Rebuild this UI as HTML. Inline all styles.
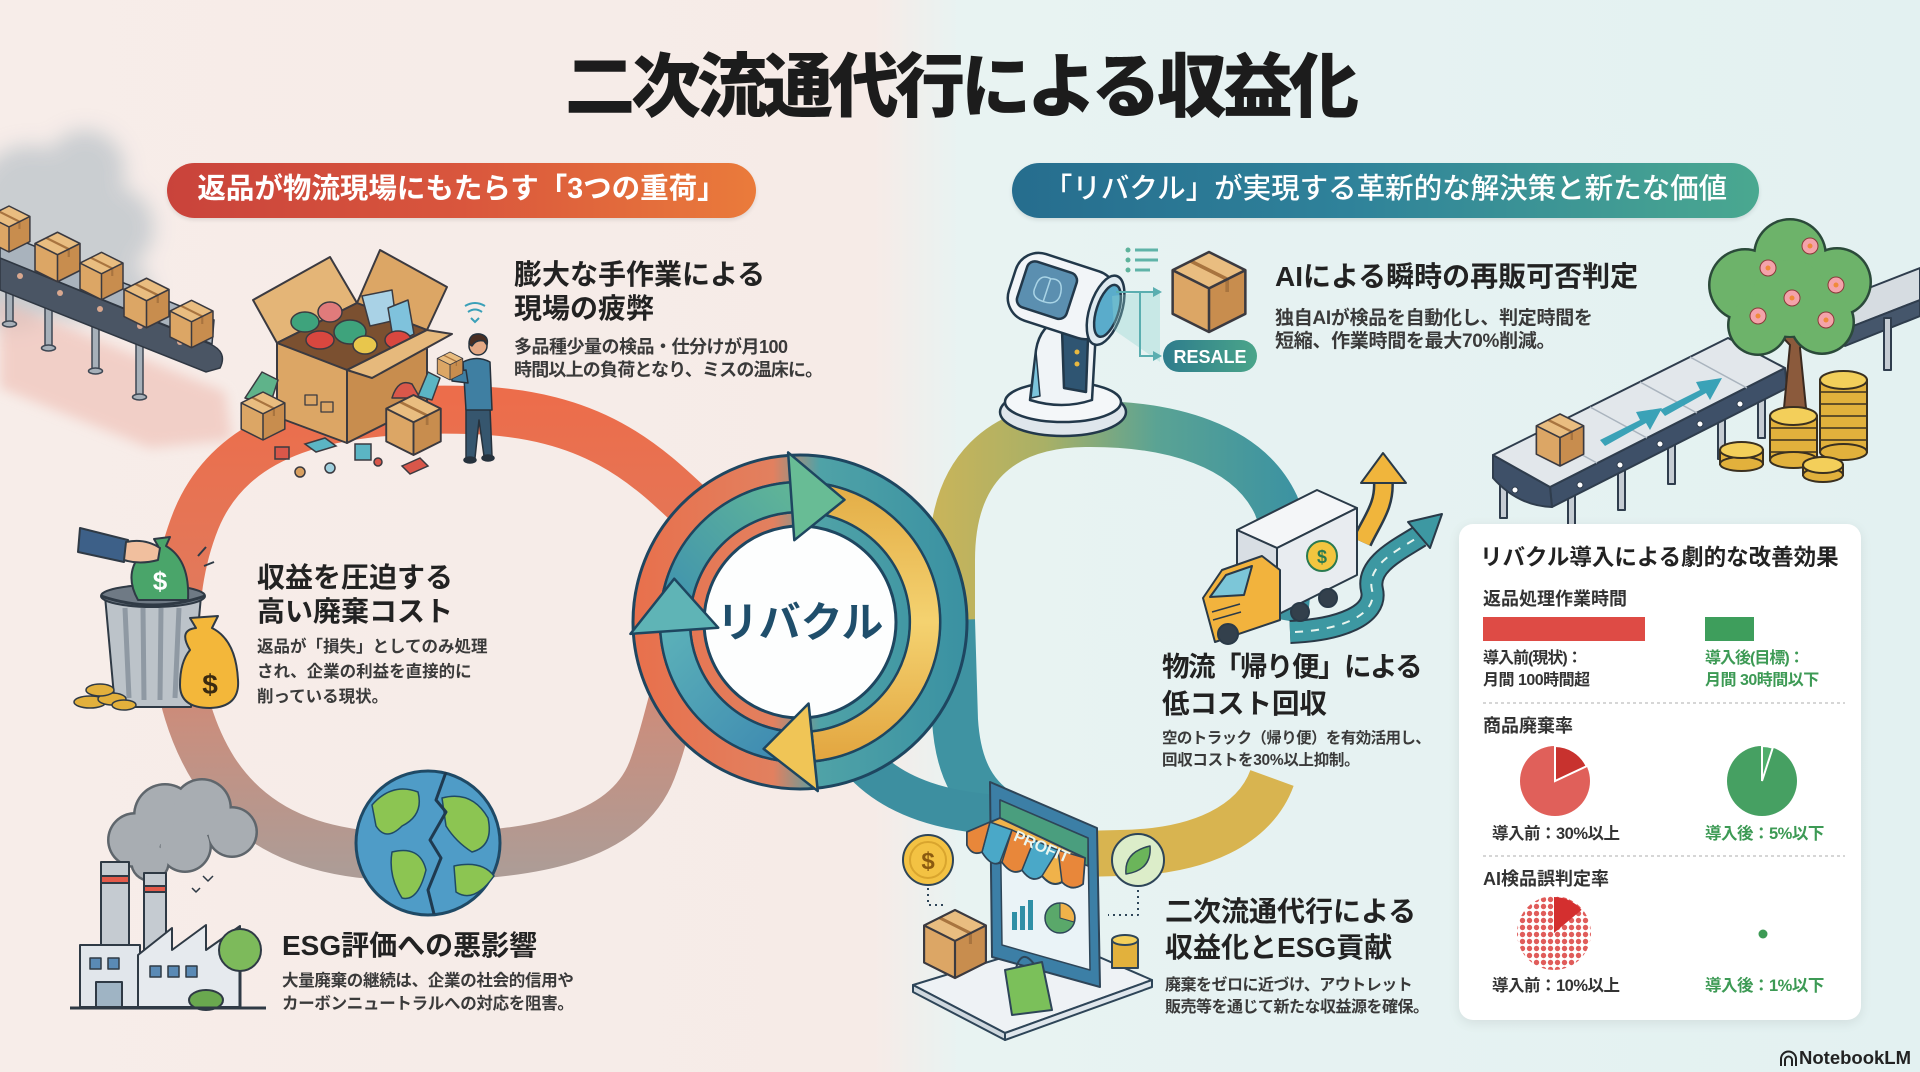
<!DOCTYPE html>
<html><head><meta charset="utf-8">
<style>
html,body{margin:0;padding:0;}
#c{position:relative;width:1920px;height:1072px;overflow:hidden;
background:linear-gradient(90deg,#f7ede9 0%,#f6ebe7 45.5%,#e8f3f2 50%,#e3f1f1 100%);
font-family:"Liberation Sans","Noto Sans CJK JP",sans-serif;}
.t{position:absolute;white-space:nowrap;line-height:1;color:#222;}
.h{font-size:28px;font-weight:700;color:#222;}
.b{color:#3a3a3a;font-weight:700;}
.pill{position:absolute;height:55px;border-radius:28px;}
.g{color:#3d9a55;}
</style></head><body>
<div id="c">
<svg width="1920" height="1072" viewBox="0 0 1920 1072" style="position:absolute;left:0;top:0">
<defs>
 <linearGradient id="gL" gradientUnits="userSpaceOnUse" x1="0" y1="400" x2="0" y2="870">
  <stop offset="0" stop-color="#ec6d4b"/><stop offset="0.4" stop-color="#e2795b"/><stop offset="0.7" stop-color="#c88f7f"/><stop offset="1" stop-color="#ad9c96"/>
 </linearGradient>
 <linearGradient id="gRT" gradientUnits="userSpaceOnUse" x1="940" y1="0" x2="1290" y2="0">
  <stop offset="0" stop-color="#c7b45b"/><stop offset="0.3" stop-color="#a9b066"/><stop offset="0.62" stop-color="#5aa394"/><stop offset="1" stop-color="#3d93a1"/>
 </linearGradient>
 <linearGradient id="gRing" gradientUnits="userSpaceOnUse" x1="-167" y1="0" x2="167" y2="0">
  <stop offset="0" stop-color="#e8704c"/><stop offset="0.42" stop-color="#e2805f"/><stop offset="0.56" stop-color="#4fa2a7"/><stop offset="1" stop-color="#3a91a2"/>
 </linearGradient>
 <linearGradient id="gA1" gradientUnits="userSpaceOnUse" x1="-140" y1="0" x2="0" y2="-140"><stop offset="0" stop-color="#3c8fb2"/><stop offset="1" stop-color="#62b795"/></linearGradient>
 <linearGradient id="gA2" gradientUnits="userSpaceOnUse" x1="0" y1="-140" x2="0" y2="140"><stop offset="0" stop-color="#e3ac45"/><stop offset="0.5" stop-color="#f4d270"/><stop offset="1" stop-color="#e2a53f"/></linearGradient>
 <linearGradient id="gA3" gradientUnits="userSpaceOnUse" x1="0" y1="140" x2="-140" y2="0"><stop offset="0" stop-color="#3b86b0"/><stop offset="1" stop-color="#5db3b9"/></linearGradient>
 <linearGradient id="gRes" x1="0" y1="0" x2="1" y2="0"><stop offset="0" stop-color="#2e7c8c"/><stop offset="1" stop-color="#4aa58a"/></linearGradient>
 <filter id="bl6" x="-50%" y="-50%" width="200%" height="200%"><feGaussianBlur stdDeviation="6"/></filter>
 <filter id="bl10" x="-50%" y="-50%" width="200%" height="200%"><feGaussianBlur stdDeviation="10"/></filter>
 <symbol id="bx" viewBox="0 0 40 44" overflow="visible">
  <path d="M0 10 L20 0 L40 10 L20 20Z" fill="#e9bd80"/>
  <path d="M0 10 L20 20 L20 44 L0 34Z" fill="#dca665"/>
  <path d="M20 20 L40 10 L40 34 L20 44Z" fill="#c88d4e"/>
  <path d="M10 5 L30 15 L30 22" fill="none" stroke="#a8743f" stroke-width="2"/>
  <path d="M0 10 L20 0 L40 10 L40 34 L20 44 L0 34Z M0 10 L20 20 L40 10 M20 20 L20 44" fill="none" stroke="#3b3a40" stroke-width="1.4" stroke-linejoin="round"/>
 </symbol>
 <pattern id="dots" patternUnits="userSpaceOnUse" width="7" height="7"><circle cx="3.5" cy="3.5" r="2.7" fill="#e05c5a"/></pattern>
</defs>

<!-- top-left smoke & conveyor -->
<g filter="url(#bl10)" fill="#c6cbcf" opacity="0.9">
 <circle cx="30" cy="200" r="55"/><circle cx="85" cy="170" r="40"/><circle cx="112" cy="228" r="42"/><circle cx="70" cy="272" r="50"/><circle cx="122" cy="292" r="30"/><circle cx="15" cy="290" r="40"/>
</g>
<path d="M0 300 L225 392 L232 440 L150 448 L0 388Z" fill="#efc0b6" opacity="0.65" filter="url(#bl6)"/>
<g stroke="#3e4753" stroke-width="1.5" fill="#a7b0b9">
 <rect x="6" y="275" width="7" height="48"/><ellipse cx="9.5" cy="324" rx="7" ry="3"/>
 <rect x="45" y="290" width="7" height="57"/><ellipse cx="48.5" cy="348" rx="7" ry="3"/>
 <rect x="92" y="310" width="7" height="60"/><ellipse cx="95.5" cy="371" rx="7" ry="3"/>
 <rect x="136" y="328" width="7" height="68"/><ellipse cx="139.5" cy="397" rx="7" ry="3"/>
</g>
<path d="M0 258 L210 344 Q228 352 220 368 L206 372 L0 290 Z" fill="#4a5564" stroke="#2f3742" stroke-width="1.5"/>
<path d="M0 232 L214 320 L212 344 L0 258 Z" fill="#a9b3bd" stroke="#2f3742" stroke-width="1.5"/>
<g fill="#d9a88f"><circle cx="20" cy="276" r="3"/><circle cx="60" cy="293" r="3"/><circle cx="100" cy="309" r="3"/><circle cx="140" cy="326" r="3"/><circle cx="180" cy="342" r="3"/></g>
<use href="#bx" x="-12" y="206" width="42" height="46"/>
<use href="#bx" x="35" y="232" width="45" height="50"/>
<use href="#bx" x="80" y="252" width="43" height="48"/>
<use href="#bx" x="124" y="278" width="45" height="50"/>
<use href="#bx" x="170" y="300" width="43" height="48"/>

<!-- loops -->
<path d="M705 520 C650 468,600 414,470 410 C330 406,232 432,196 520 C164 600,170 700,214 770 C258 838,330 858,420 857 C530 856,625 840,652 770 C668 728,672 690,690 650" fill="none" stroke="url(#gL)" stroke-width="48"/>
<path d="M952 700 L952 560 C952 470,1000 425,1085 424 C1170 423,1248 445,1276 505 C1290 540,1290 585,1284 620" fill="none" stroke="url(#gRT)" stroke-width="46"/>
<path d="M952 620 L955 720 C958 770,975 800,1010 818" fill="none" stroke="#3f93a2" stroke-width="46"/>
<path d="M860 760 C895 800,950 812,1000 815" fill="none" stroke="#3d8fa0" stroke-width="40"/>
<path d="M1272 778 C1255 825,1200 852,1120 853 L1040 855" fill="none" stroke="#d8b450" stroke-width="46"/>

<!-- ring -->
<g transform="translate(800,622)" stroke="#1e4660" stroke-linejoin="round">
 <circle r="167" fill="url(#gRing)" stroke-width="3"/>
 <circle r="140" fill="none" stroke-width="2.5"/>
 <circle r="110" fill="url(#gRing)" stroke-width="2.5"/>
 <circle r="96" fill="#fdfefe" stroke-width="3"/>
 <path d="M-139.47 12.21 A140 140 0 0 1 -4.89 -139.92 L-3.84 -109.93 A110 110 0 0 0 -109.58 9.59Z" fill="url(#gA1)" stroke-width="2.5"/>
 <path d="M-4.89 -139.92 A140 140 0 0 1 9.77 139.66 L7.67 109.73 A110 110 0 0 0 -3.84 -109.93Z" fill="url(#gA2)" stroke-width="2.5"/>
 <path d="M14.63 139.23 A140 140 0 0 1 -139.91 4.89 L-109.93 3.84 A110 110 0 0 0 11.50 109.40Z" fill="url(#gA3)" stroke-width="2.5"/>
 <path d="M-11.9 -169.6 L44.5 -122.2 L-5.7 -81.8Z" fill="#68bc95" stroke-width="2.5"/>
 <path d="M17.77 169.07 L-36.38 126.89 L8.57 81.55Z" fill="#f0c556" stroke-width="2.5"/>
 <path d="M-169.59 11.86 L-125.75 -43.30 L-81.80 5.72Z" fill="#5fb4b6" stroke-width="2.5"/>
</g>

<!-- big box & person -->
<g stroke="#3b3a40" stroke-width="2" stroke-linejoin="round">
 <path d="M277 343 L357 303 L330 257 L253 300Z" fill="#e4b577"/>
 <path d="M357 303 L427 330 L447 287 L380 250Z" fill="#dca665"/>
 <path d="M277 343 L357 303 L427 330 L347 370Z" fill="#7b5030"/>
 <g stroke-width="1.5">
  <ellipse cx="305" cy="322" rx="14" ry="10" fill="#3ea37c"/>
  <ellipse cx="330" cy="312" rx="12" ry="10" fill="#e07b7b"/>
  <path d="M362 296 L392 290 L396 320 L370 326Z" fill="#a9d2e6"/>
  <path d="M388 308 L408 300 L414 334 L394 344Z" fill="#7fc2dc"/>
  <ellipse cx="350" cy="332" rx="16" ry="12" fill="#3ea37c"/>
  <ellipse cx="320" cy="340" rx="14" ry="9" fill="#d9473f"/>
  <ellipse cx="365" cy="345" rx="12" ry="9" fill="#e8c64c"/>
  <ellipse cx="398" cy="340" rx="13" ry="9" fill="#d9473f"/>
 </g>
 <path d="M277 343 L347 370 L347 443 L277 417Z" fill="#dca665"/>
 <path d="M347 370 L427 330 L427 403 L347 443Z" fill="#c88d4e"/>
 <path d="M347 370 L427 330 L452 334 L372 378Z" fill="#e6b97c"/>
 <path d="M305 395 h12 v10 h-12z M321 402 h12 v10 h-12z" fill="none" stroke-width="1.3"/>
 <path d="M245 398 L262 372 L278 380 L270 405Z" fill="#5fb38a" stroke-width="1.5"/>
 <path d="M392 398 Q398 378 412 384 L420 398Z" fill="#d9574a" stroke-width="1.5"/>
 <path d="M418 396 L428 372 L440 378 L432 400Z" fill="#5bb5c4" stroke-width="1.5"/>
</g>
<use href="#bx" x="233" y="392" width="60" height="48"/>
<use href="#bx" x="380" y="395" width="67" height="60"/>
<g stroke="#3b3a40" stroke-width="1.5">
 <rect x="275" y="447" width="14" height="12" fill="#d9574a"/>
 <path d="M305 444 L325 438 L336 446 L316 452Z" fill="#5bb5c4"/>
 <rect x="355" y="444" width="16" height="16" fill="#5bb5c4"/>
 <path d="M402 466 L420 458 L428 466 L410 474Z" fill="#d9574a"/>
 <circle cx="330" cy="468" r="5" fill="#9fd0de"/><circle cx="300" cy="472" r="5" fill="#d9a060"/><circle cx="378" cy="462" r="4" fill="#d9574a"/>
</g>
<g stroke="#26323d" stroke-width="1.5" stroke-linejoin="round">
 <path d="M466 408 L490 408 L492 456 L484 456 L479 420 L475 458 L466 458Z" fill="#36566e"/>
 <path d="M463 362 Q477 355 490 362 L492 410 L466 410Z" fill="#3f7fa2"/>
 <path d="M466 370 L452 372 L452 381 L468 383Z" fill="#3f7fa2"/>
 <ellipse cx="470" cy="460" rx="6" ry="3" fill="#26323d"/><ellipse cx="488" cy="458" rx="6" ry="3" fill="#26323d"/>
 <circle cx="478" cy="346" r="9" fill="#e4a985"/>
 <path d="M469 344 Q469 333 480 334 Q489 336 487 345 L484 341 Q476 339 472 346Z" fill="#4a2e22"/>
</g>
<use href="#bx" x="437" y="352" width="26" height="28"/>
<g fill="none" stroke="#3aa0b8" stroke-width="2"><path d="M465 306 Q475 300 485 306"/><path d="M468 312 Q475 307 482 312"/><path d="M471 318 L475 322 L479 318"/></g>

<!-- trash can -->
<g stroke="#2f3a45" stroke-width="2" stroke-linejoin="round">
 <path d="M105 596 L201 596 L191 707 L115 707Z" fill="#bcc3c9"/>
 <path d="M125 608 L129 698 M143 608 L144 700 M161 608 L160 700 M179 608 L175 698" stroke="#8f99a3" stroke-width="5"/>
 <ellipse cx="153" cy="596" rx="52" ry="11" fill="#6f7a85"/>
 <path d="M138 600 Q124 575 140 555 Q150 546 158 546 L154 539 L170 537 L166 546 Q190 560 188 600Z" fill="#4aa56a"/>
 <path d="M101 596 Q153 614 205 596" fill="none" stroke-width="3"/>
 <path d="M80 528 L128 540 L124 562 L78 552Z" fill="#3d6088"/>
 <path d="M126 542 Q145 538 160 548 L158 560 Q140 565 124 560Z" fill="#f1bf9e"/>
 <path d="M190 650 Q178 630 196 628 L190 618 L218 616 L212 628 Q236 640 238 680 Q240 707 210 708 Q180 708 180 685 Q180 662 190 650Z" fill="#f3b73a"/>
 <g fill="#e2b03c" stroke-width="1.5"><ellipse cx="90" cy="702" rx="16" ry="6"/><ellipse cx="112" cy="699" rx="14" ry="6"/><ellipse cx="100" cy="690" rx="14" ry="6"/><ellipse cx="124" cy="705" rx="12" ry="5"/></g>
 <path d="M198 556 L206 547 M204 566 L214 562" fill="none"/>
</g>
<text x="160" y="590" font-family="Liberation Sans" font-weight="700" font-size="26" fill="#fff" text-anchor="middle">$</text>
<text x="210" y="694" font-family="Liberation Sans" font-weight="700" font-size="28" fill="#3a2a10" text-anchor="middle">$</text>

<!-- factory -->
<g stroke="#2f3a45" stroke-width="2" stroke-linejoin="round">
 <g fill="#5f666c" stroke="none"><circle cx="135" cy="840" r="28"/><circle cx="165" cy="815" r="32"/><circle cx="202" cy="808" r="30"/><circle cx="232" cy="832" r="26"/><circle cx="185" cy="846" r="27"/><circle cx="150" cy="862" r="20"/></g>
 <g fill="#a8adb2" stroke="none"><circle cx="135" cy="840" r="25.5"/><circle cx="165" cy="815" r="29.5"/><circle cx="202" cy="808" r="27.5"/><circle cx="232" cy="832" r="23.5"/><circle cx="185" cy="846" r="24.5"/><circle cx="150" cy="862" r="17.5"/></g>
 <rect x="101" y="862" width="28" height="120" fill="#c5cbd1"/><rect x="101" y="876" width="28" height="7" fill="#e35a4a"/>
 <rect x="144" y="873" width="22" height="100" fill="#c5cbd1"/><rect x="144" y="886" width="22" height="6" fill="#e35a4a"/>
 <path d="M80 1007 L80 945 L140 945 L140 1007Z" fill="#e1e6eb"/>
 <path d="M138 1007 L138 955 L172 928 L172 950 L206 925 L206 950 L240 926 L240 1007Z" fill="#e6eaee"/>
 <g fill="#5a8ab5" stroke-width="1.5"><rect x="90" y="958" width="11" height="11"/><rect x="108" y="958" width="11" height="11"/><rect x="150" y="966" width="11" height="11"/><rect x="168" y="966" width="11" height="11"/><rect x="186" y="966" width="11" height="11"/></g>
 <rect x="96" y="982" width="26" height="25" fill="#9fb4c4"/>
 <path d="M240 970 L240 1007" stroke-width="3"/>
 <circle cx="240" cy="950" r="21" fill="#7dba5b"/>
 <ellipse cx="206" cy="1000" rx="17" ry="10" fill="#6aa84f"/>
 <path d="M70 1008 L266 1008" stroke-width="3"/>
 <path d="M203 876 l5 5 l5 -5 M192 888 l4 4 l4 -4" fill="none" stroke-width="1.5"/>
</g>

<!-- globe -->
<g stroke="#1f4a66" stroke-width="3" stroke-linejoin="round">
 <circle cx="428" cy="843" r="72" fill="#4f9cc7"/>
 <g fill="#8cc552" stroke-width="1.5">
  <path d="M372 805 Q392 782 418 792 Q424 815 402 826 Q386 842 376 826Z"/>
  <path d="M442 798 Q472 790 488 818 Q494 846 472 852 Q456 842 446 826Z"/>
  <path d="M392 852 Q420 845 426 870 Q418 902 402 898 Q388 876 392 852Z"/>
  <path d="M454 866 Q482 860 494 876 Q474 904 456 892Z"/>
 </g>
 <path d="M446 772 L436 800 L446 812 L430 840 L441 858 L428 890 L434 914" fill="none" stroke="#1f3a50" stroke-width="3"/>
</g>

<!-- robot & AI -->
<g stroke="#22384a" stroke-width="2.5" stroke-linejoin="round">
 <ellipse cx="1063" cy="412" rx="63" ry="24" fill="#dfe6ec"/>
 <ellipse cx="1063" cy="402" rx="58" ry="20" fill="#f4f7f9"/>
 <path d="M1030 400 L1036 350 Q1040 325 1062 318 L1096 330 L1092 400 Q1062 410 1030 400Z" fill="#f0f4f7"/>
 <path d="M1036 352 L1040 396 L1031 398Z" fill="#7cc4dc" stroke-width="1.5"/>
 <path d="M1062 330 L1088 338 L1086 392 L1064 388Z" fill="#2f5572"/>
 <g transform="rotate(18 1065 296)">
  <rect x="1010" y="262" width="104" height="70" rx="24" fill="#f2f5f8"/>
  <rect x="1020" y="272" width="52" height="48" rx="8" fill="#5b8fb0"/>
  <path d="M1034 296 Q1034 282 1046 284 Q1058 280 1060 294 Q1062 308 1046 308 Q1032 308 1034 296Z M1046 284 L1046 308" fill="none" stroke="#a9d4e6" stroke-width="1.5"/>
  <ellipse cx="1108" cy="297" rx="16" ry="36" fill="#dfeaf0"/>
  <ellipse cx="1110" cy="297" rx="11" ry="27" fill="#5aaccb"/>
 </g>
</g>
<g fill="#e8b840"><circle cx="1077" cy="352" r="2.5"/><circle cx="1077" cy="364" r="2.5"/></g>
<path d="M1112 296 L1160 290 L1160 362 L1114 330Z" fill="#8fd3d0" opacity="0.35"/>
<g fill="#5fb39c"><circle cx="1128" cy="250" r="2.5"/><circle cx="1128" cy="260" r="2.5"/><circle cx="1128" cy="270" r="2.5"/></g>
<path d="M1135 250 H1158 M1135 260 H1158 M1135 270 H1150" stroke="#5fb3a8" stroke-width="3"/>
<path d="M1116 292 H1154 M1140 292 V356 H1154" fill="none" stroke="#5aaeb0" stroke-width="2"/>
<path d="M1153 287 L1162 292 L1153 297Z M1153 351 L1162 356 L1153 361Z" fill="#5aaeb0"/>
<use href="#bx" x="1172" y="252" width="74" height="80"/>
<rect x="1163" y="340" width="94" height="32" rx="16" fill="url(#gRes)"/>
<text x="1210" y="363" font-family="Liberation Sans" font-weight="700" font-size="18" fill="#fff" text-anchor="middle">RESALE</text>

<!-- right conveyor, tree, coins -->
<g stroke="#2f3d4d" stroke-width="2" stroke-linejoin="round">
 <path d="M1838 300 L1920 268 L1920 300 L1843 330Z" fill="#d6dce1"/>
 <path d="M1843 330 L1920 300 L1920 316 L1845 346Z" fill="#45566b"/>
 <rect x="1884" y="318" width="7" height="52" fill="#c5ccd3"/>
 <g fill="#c5ccd3"><rect x="1500" y="476" width="7" height="42"/><rect x="1568" y="496" width="7" height="40"/><rect x="1618" y="470" width="7" height="40"/><rect x="1668" y="444" width="7" height="40"/><rect x="1718" y="419" width="7" height="40"/><rect x="1758" y="398" width="7" height="40"/></g>
 <path d="M1550 487 L1785 368 L1787 388 L1552 507Z" fill="#3e5068"/>
 <path d="M1493 455 L1550 487 L1552 507 Q1518 506 1493 478Z" fill="#3e5068"/>
 <path d="M1493 455 L1728 338 L1785 368 L1550 487Z" fill="#e2e7eb"/>
 <path d="M1540 432 L1597 463 M1590 407 L1647 438 M1640 382 L1697 413 M1690 357 L1747 388" stroke="#aab4be" stroke-width="1.5"/>
</g>
<g fill="#fff" stroke="#2f3d4d" stroke-width="1"><circle cx="1580" cy="485" r="3"/><circle cx="1620" cy="465" r="3"/><circle cx="1660" cy="444" r="3"/><circle cx="1700" cy="424" r="3"/><circle cx="1740" cy="404" r="3"/><circle cx="1515" cy="490" r="3"/></g>
<path d="M1600 440 L1640 420 L1636 412 L1662 408 L1650 430 L1646 423 L1605 446Z" fill="#3aa2b7"/>
<path d="M1660 410 L1700 390 L1696 382 L1722 378 L1710 400 L1706 393 L1665 416Z" fill="#3aa2b7"/>
<use href="#bx" x="1533" y="414" width="54" height="52"/>
<path d="M1784 408 L1790 345 L1768 322 L1777 318 L1795 338 L1805 318 L1813 322 L1800 348 L1806 408Z" fill="#8b5a3c" stroke="#3a2a20" stroke-width="2"/>
<g fill="#2b4a3a"><circle cx="1745" cy="285" r="37"/><circle cx="1790" cy="255" r="37"/><circle cx="1837" cy="282" r="35"/><circle cx="1758" cy="325" r="31"/><circle cx="1822" cy="322" r="33"/><circle cx="1790" cy="298" r="40"/></g>
<g fill="#6db36a"><circle cx="1745" cy="285" r="34.5"/><circle cx="1790" cy="255" r="34.5"/><circle cx="1837" cy="282" r="32.5"/><circle cx="1758" cy="325" r="28.5"/><circle cx="1822" cy="322" r="30.5"/><circle cx="1790" cy="298" r="38"/></g>
<g fill="#f4a3aa" stroke="#8a3a3a" stroke-width="1"><circle cx="1768" cy="268" r="8"/><circle cx="1810" cy="246" r="8"/><circle cx="1836" cy="285" r="8"/><circle cx="1792" cy="298" r="8"/><circle cx="1758" cy="316" r="8"/><circle cx="1826" cy="320" r="8"/></g>
<g fill="#f08a3a"><circle cx="1768" cy="268" r="2.5"/><circle cx="1810" cy="246" r="2.5"/><circle cx="1836" cy="285" r="2.5"/><circle cx="1792" cy="298" r="2.5"/><circle cx="1758" cy="316" r="2.5"/><circle cx="1826" cy="320" r="2.5"/></g>
<g stroke="#3a3020" stroke-width="2">
 <rect x="1820" y="380" width="47" height="72" fill="#e2b13c"/>
 <path d="M1820 392 H1867 M1820 404 H1867 M1820 416 H1867 M1820 428 H1867 M1820 440 H1867" stroke-width="1.5"/>
 <ellipse cx="1843.5" cy="452" rx="23.5" ry="8" fill="#e2b13c"/>
 <ellipse cx="1843.5" cy="380" rx="23.5" ry="9" fill="#f3cf5a"/>
 <rect x="1770" y="416" width="47" height="44" fill="#e2b13c"/>
 <path d="M1770 428 H1817 M1770 440 H1817 M1770 452 H1817" stroke-width="1.5"/>
 <ellipse cx="1793.5" cy="460" rx="23.5" ry="8" fill="#e2b13c"/>
 <ellipse cx="1793.5" cy="416" rx="23.5" ry="9" fill="#f3cf5a"/>
 <rect x="1720" y="450" width="43" height="14" fill="#e2b13c"/><ellipse cx="1741.5" cy="464" rx="21.5" ry="7" fill="#e2b13c"/><ellipse cx="1741.5" cy="450" rx="21.5" ry="8" fill="#f3cf5a"/>
 <rect x="1803" y="465" width="40" height="10" fill="#e2b13c"/><ellipse cx="1823" cy="475" rx="20" ry="7" fill="#e2b13c"/><ellipse cx="1823" cy="465" rx="20" ry="8" fill="#f3cf5a"/>
</g>

<!-- truck -->
<path d="M1362 542 C1372 520,1386 505,1383 478" fill="none" stroke="#2a3a48" stroke-width="21"/>
<path d="M1362 542 C1372 520,1386 505,1383 478" fill="none" stroke="#f0b53c" stroke-width="16"/>
<path d="M1361 483 L1383 453 L1406 483Z" fill="#f0b53c" stroke="#2a3a48" stroke-width="2" stroke-linejoin="round"/>
<path d="M1290 632 C1340 630,1378 615,1372 590 C1366 565,1398 550,1420 536" fill="none" stroke="#2a3a48" stroke-width="24"/>
<path d="M1290 632 C1340 630,1378 615,1372 590 C1366 565,1398 550,1420 536" fill="none" stroke="#3d98a2" stroke-width="20"/>
<path d="M1295 632 C1340 630,1378 615,1372 590 C1366 565,1398 550,1420 536" fill="none" stroke="#e8f4ee" stroke-width="2" stroke-dasharray="8 8"/>
<path d="M1408 522 L1442 514 L1430 548Z" fill="#3d98a2" stroke="#2a3a48" stroke-width="2" stroke-linejoin="round"/>
<g stroke="#2a3a48" stroke-width="2" stroke-linejoin="round">
 <path d="M1237 530 L1317 490 L1357 508 L1277 548Z" fill="#f4f6f8"/>
 <path d="M1237 530 L1277 548 L1277 612 L1237 594Z" fill="#d8dee4"/>
 <path d="M1277 548 L1357 508 L1357 575 L1277 615Z" fill="#e8ecf0"/>
 <circle cx="1322" cy="556" r="15" fill="#f3c53f" stroke="#2a7a50"/>
 <path d="M1203 598 L1222 570 L1262 556 L1280 570 L1280 620 L1215 642Z" fill="#f2b33d"/>
 <path d="M1210 597 L1226 575 L1252 566 L1244 595Z" fill="#7cc6d8"/>
 <path d="M1212 612 L1240 604 M1213 620 L1241 612" stroke-width="1.5"/>
 <circle cx="1228" cy="634" r="10" fill="#33404c"/><circle cx="1300" cy="612" r="9" fill="#33404c"/><circle cx="1328" cy="598" r="9" fill="#33404c"/>
</g>
<text x="1322" y="563" font-family="Liberation Sans" font-weight="700" font-size="18" fill="#2a7a50" text-anchor="middle">$</text>

<!-- store -->
<g stroke="#2e4558" stroke-width="2" stroke-linejoin="round">
 <path d="M913 985 L1060 940 L1152 980 L1005 1033Z" fill="#eef2f5"/>
 <path d="M913 985 L1005 1033 L1005 1040 L913 992Z" fill="#cfd8df"/>
 <path d="M1005 1033 L1152 980 L1152 987 L1005 1040Z" fill="#dfe6ec"/>
 <path d="M990 782 L1097 828 L1100 987 L992 957Z" fill="#3c7fa6"/>
 <path d="M1000 800 L1088 838 L1090 970 L1002 945Z" fill="#eaf3f7" stroke-width="1.5"/>
 <path d="M1000 800 L1088 838 L1088 866 L1000 828Z" fill="#4a9e7e" stroke-width="1.5"/>
 <path d="M967 832 L1000 818 L1085 858 L1083 884 Q1072 892 1062 882 Q1052 888 1042 876 Q1032 884 1022 870 Q1012 876 1002 862 Q992 868 982 852 Q972 856 967 845Z" fill="#f0b24a"/>
 <path d="M990 822 L1012 830 L1000 862 Q992 868 982 852Z M1034 840 L1058 850 L1042 876 Q1032 884 1022 870Z" fill="#4aa8c8" stroke-width="1.5"/>
 <path d="M967 845 Q972 856 982 852 L990 822 L967 832Z M1012 830 L1034 840 L1022 870 Q1012 876 1002 862Z M1058 850 L1085 858 L1083 884 Q1072 892 1062 882 Z" fill="#e8873a" stroke-width="1.5"/>
 <g fill="#2f8fa6" stroke="none"><rect x="1012" y="912" width="5" height="18"/><rect x="1020" y="906" width="5" height="24"/><rect x="1028" y="900" width="5" height="30"/></g>
 <circle cx="1060" cy="918" r="15" fill="#5aa86a" stroke-width="1.5"/>
 <path d="M1060 918 L1060 903 A15 15 0 0 1 1074 922Z" fill="#f0b24a" stroke-width="1"/>
 <circle cx="928" cy="860" r="25" fill="#f3c243"/>
 <circle cx="928" cy="860" r="18" fill="none" stroke="#d9a52e" stroke-width="2"/>
 <circle cx="1138" cy="860" r="26" fill="#dcedc9"/>
 <path d="M1126 874 Q1124 852 1150 846 Q1152 870 1126 874Z" fill="#6bb55a" stroke-width="1.5"/>
 <path d="M928 888 V905 H945 M1138 890 V915 H1108" fill="none" stroke-width="2" stroke-dasharray="2 4"/>
 <rect x="1112" y="940" width="26" height="28" fill="#e2b13c"/><ellipse cx="1125" cy="940" rx="13" ry="5" fill="#f3cf5a"/>
 <path d="M1005 970 L1042 962 L1052 1010 L1012 1015Z" fill="#7bc05a"/>
 <path d="M1016 968 Q1022 948 1034 964" fill="none"/>
</g>
<use href="#bx" x="923" y="910" width="64" height="68"/>
<text x="928" y="869" font-family="Liberation Sans" font-weight="700" font-size="24" fill="#8a5a10" text-anchor="middle">$</text>
<text x="1042" y="852" font-family="Liberation Sans" font-weight="700" font-size="16" fill="#eaf6ef" text-anchor="middle" transform="rotate(23 1042 846)">PROFIT</text>

<!-- panel -->
<rect x="1459" y="527" width="402" height="496" rx="14" fill="#000" opacity="0.08" filter="url(#bl6)"/>
<rect x="1459" y="524" width="402" height="496" rx="14" fill="#ffffff"/>
<rect x="1483" y="617" width="162" height="24" fill="#de4b45"/>
<rect x="1705" y="617" width="49" height="24" fill="#3e9e5c"/>
<path d="M1483 703 H1845 M1483 856 H1845" stroke="#c8c8c8" stroke-width="1.5" stroke-dasharray="3 3"/>
<circle cx="1555" cy="781" r="35" fill="#e0605a"/>
<path d="M1555 781 L1555 746 A35 35 0 0 1 1586.7 766.2Z" fill="#c8322e" stroke="#fff" stroke-width="2"/>
<circle cx="1762" cy="781" r="35" fill="#46a062"/>
<path d="M1762 781 L1762 746 A35 35 0 0 1 1772.8 747.7Z" fill="#4fae6c" stroke="#fff" stroke-width="2"/>
<circle cx="1554" cy="933" r="37" fill="url(#dots)"/>
<path d="M1554 933 L1554 897 A36 36 0 0 1 1581.6 909.9Z" fill="#d42f2f"/>
<circle cx="1763" cy="934" r="4.5" fill="#3d9a55"/>
<path d="M1781 1066 V1059 A7.5 7.5 0 0 1 1796 1059 V1066 M1785 1066 V1060 A3.5 3.5 0 0 1 1792 1060 V1066" fill="none" stroke="#222" stroke-width="2"/>
</svg>

<!-- title & pills -->
<div class="t" style="left:0;width:1920px;text-align:center;top:52px;font-size:70px;font-weight:900;letter-spacing:-4px;color:#1c1c1c;">二次流通代行による収益化</div>
<div class="pill" style="left:167px;top:163px;width:589px;background:linear-gradient(90deg,#c9433b 0%,#d9563d 50%,#ea7b3b 100%);box-shadow:0 2px 4px rgba(0,0,0,.1);"></div>
<div class="t" style="left:167px;width:589px;text-align:center;top:175px;font-size:28.5px;font-weight:700;color:#fff;">返品が物流現場にもたらす「3つの重荷」</div>
<div class="pill" style="left:1012px;top:163px;width:747px;background:linear-gradient(90deg,#266d8e 0%,#2f829a 45%,#4aa890 100%);box-shadow:0 2px 4px rgba(0,0,0,.1);"></div>
<div class="t" style="left:1012px;width:747px;text-align:center;top:175px;font-size:28.5px;font-weight:500;color:#fff;">「リバクル」が実現する革新的な解決策と新たな価値</div>

<!-- ring label -->
<div class="t" style="left:700px;width:200px;text-align:center;top:602px;font-size:42px;font-weight:700;color:#1f4e6b;">リバクル</div>

<!-- left texts -->
<div class="t h" style="left:514px;top:261px;">膨大な手作業による</div>
<div class="t h" style="left:514px;top:295px;">現場の疲弊</div>
<div class="t b" style="left:514px;top:338px;font-size:18px;letter-spacing:-0.5px;">多品種少量の検品・仕分けが月100</div>
<div class="t b" style="left:514px;top:361px;font-size:18px;letter-spacing:-0.8px;">時間以上の負荷となり、ミスの温床に。</div>

<div class="t h" style="left:257px;top:564px;">収益を圧迫する</div>
<div class="t h" style="left:257px;top:598px;">高い廃棄コスト</div>
<div class="t b" style="left:257px;top:639px;font-size:16.5px;">返品が「損失」としてのみ処理</div>
<div class="t b" style="left:257px;top:664px;font-size:16.5px;">され、企業の利益を直接的に</div>
<div class="t b" style="left:257px;top:689px;font-size:16.5px;">削っている現状。</div>

<div class="t h" style="left:282px;top:932px;">ESG評価への悪影響</div>
<div class="t b" style="left:282px;top:973px;font-size:16.5px;letter-spacing:-0.3px;">大量廃棄の継続は、企業の社会的信用や</div>
<div class="t b" style="left:282px;top:996px;font-size:16.5px;letter-spacing:-0.3px;">カーボンニュートラルへの対応を阻害。</div>

<!-- right texts -->
<div class="t h" style="left:1275px;top:263px;">AIによる瞬時の再販可否判定</div>
<div class="t b" style="left:1275px;top:309px;font-size:19px;letter-spacing:-0.3px;">独自AIが検品を自動化し、判定時間を</div>
<div class="t b" style="left:1275px;top:332px;font-size:19px;letter-spacing:-0.3px;">短縮、作業時間を最大70%削減。</div>

<div class="t h" style="left:1162px;top:653px;font-size:27.5px;letter-spacing:-1.5px;">物流「帰り便」による</div>
<div class="t h" style="left:1162px;top:690px;font-size:27.5px;">低コスト回収</div>
<div class="t b" style="left:1162px;top:731px;font-size:15.5px;letter-spacing:-0.6px;">空のトラック（帰り便）を有効活用し、</div>
<div class="t b" style="left:1162px;top:753px;font-size:15.5px;letter-spacing:-0.3px;">回収コストを30%以上抑制。</div>

<div class="t h" style="left:1165px;top:898px;">二次流通代行による</div>
<div class="t h" style="left:1165px;top:934px;">収益化とESG貢献</div>
<div class="t b" style="left:1165px;top:978px;font-size:16px;letter-spacing:-0.5px;">廃棄をゼロに近づけ、アウトレット</div>
<div class="t b" style="left:1165px;top:1000px;font-size:16px;letter-spacing:-0.5px;">販売等を通じて新たな収益源を確保。</div>

<!-- panel texts -->
<div class="t" style="left:1480px;top:547px;font-size:22.5px;font-weight:700;">リバクル導入による劇的な改善効果</div>
<div class="t" style="left:1483px;top:590px;font-size:18px;font-weight:700;color:#333;">返品処理作業時間</div>
<div class="t" style="left:1483px;top:651px;font-size:16px;font-weight:700;color:#333;letter-spacing:-1px;">導入前(現状)：</div>
<div class="t" style="left:1483px;top:673px;font-size:16px;font-weight:700;color:#333;letter-spacing:-0.5px;">月間 100時間超</div>
<div class="t g" style="left:1705px;top:651px;font-size:16px;font-weight:700;letter-spacing:-1px;">導入後(目標)：</div>
<div class="t g" style="left:1705px;top:673px;font-size:16px;font-weight:700;letter-spacing:-0.5px;">月間 30時間以下</div>
<div class="t" style="left:1483px;top:717px;font-size:18px;font-weight:700;color:#333;">商品廃棄率</div>
<div class="t" style="left:1492px;top:826px;font-size:16.5px;font-weight:700;color:#333;letter-spacing:-0.5px;">導入前：30%以上</div>
<div class="t g" style="left:1705px;top:826px;font-size:16.5px;font-weight:700;letter-spacing:-0.5px;">導入後：5%以下</div>
<div class="t" style="left:1483px;top:870px;font-size:18px;font-weight:700;color:#333;">AI検品誤判定率</div>
<div class="t" style="left:1492px;top:978px;font-size:16.5px;font-weight:700;color:#333;letter-spacing:-0.5px;">導入前：10%以上</div>
<div class="t g" style="left:1705px;top:978px;font-size:16.5px;font-weight:700;letter-spacing:-0.5px;">導入後：1%以下</div>

<div class="t" style="left:1799px;top:1049px;font-size:18.5px;font-weight:700;color:#222;">NotebookLM</div>
</div>
</body></html>
